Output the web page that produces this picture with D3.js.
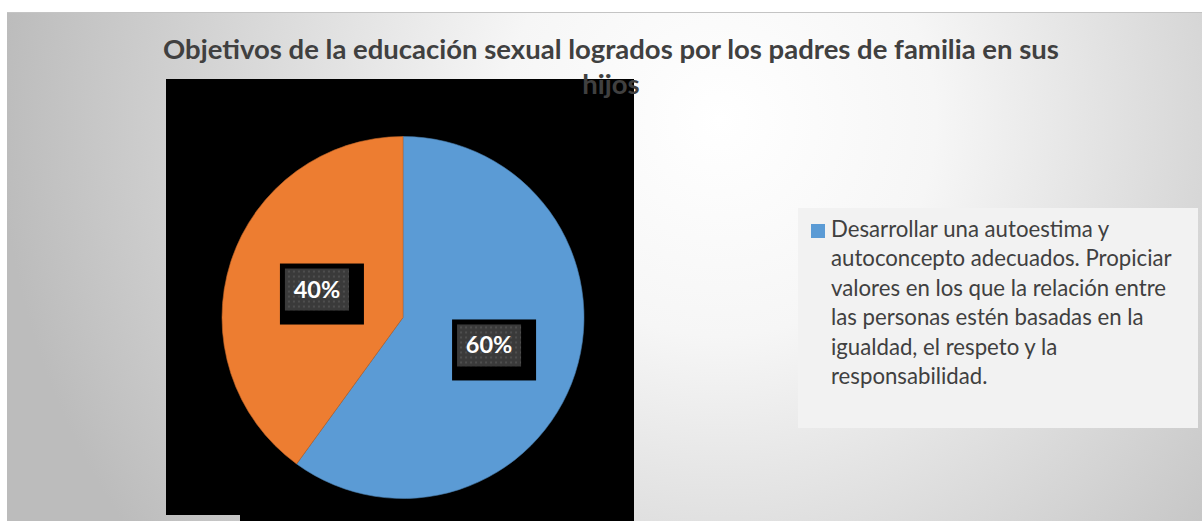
<!DOCTYPE html>
<html>
<head>
<meta charset="utf-8">
<script src="https://cdn.jsdelivr.net/npm/d3@7"></script>
<style>
  html, body { margin: 0; padding: 0; background: #ffffff; }
  svg { display: block; }
</style>
</head>
<body>
<script>
// Chart data
const titleLines = ["Objetivos de la educación sexual logrados por los padres de familia en sus", "hijos"];
const categories = [
  "Desarrollar una autoestima y autoconcepto adecuados. Propiciar valores en los que la relación entre las personas estén basadas en la igualdad, el respeto y la responsabilidad.",
  ""
];
const values = [60, 40];
const legendLines = [
  "Desarrollar una autoestima y",
  "autoconcepto adecuados. Propiciar",
  "valores en los que la relación entre",
  "las personas estén basadas en la",
  "igualdad, el respeto y la",
  "responsabilidad."
];
const colors = ["#5B9BD5", "#ED7D31"];

const W = 1202, H = 521;
const FONT = "Lato, 'Open Sans', 'Noto Sans', sans-serif";

const svg = d3.select("body").append("svg")
  .attr("width", W).attr("height", H);

const defs = svg.append("defs");
const bg = defs.append("radialGradient")
  .attr("id", "bgGrad")
  .attr("gradientUnits", "userSpaceOnUse")
  .attr("cx", 720).attr("cy", 120).attr("r", 720);
bg.append("stop").attr("offset", "0%").attr("stop-color", "#ffffff");
bg.append("stop").attr("offset", "30%").attr("stop-color", "#f6f6f6");
bg.append("stop").attr("offset", "100%").attr("stop-color", "#bcbcbc");

const pat = defs.append("pattern")
  .attr("id", "labelPat")
  .attr("patternUnits", "userSpaceOnUse")
  .attr("width", 5).attr("height", 5);
pat.append("rect").attr("width", 5).attr("height", 5).attr("fill", "#3a3a3a");
pat.append("rect").attr("x", 1).attr("y", 1).attr("width", 2).attr("height", 2).attr("fill", "#4e4e4e");

// Chart area background
svg.append("rect")
  .attr("x", 7).attr("y", 12).attr("width", W - 7).attr("height", H - 12)
  .attr("fill", "url(#bgGrad)");
svg.append("line")
  .attr("x1", 7).attr("x2", W).attr("y1", 12.5).attr("y2", 12.5)
  .attr("stroke", "#c4c4c4").attr("stroke-width", 1);

// Plot area (black)
const plot = svg.append("g");
plot.append("rect").attr("x", 166).attr("y", 79).attr("width", 468).attr("height", 436).attr("fill", "#000");
plot.append("rect").attr("x", 240).attr("y", 79).attr("width", 394).attr("height", 442).attr("fill", "#000");

// Title
svg.append("g").selectAll("text").data(titleLines).join("text")
  .attr("x", 611)
  .attr("y", (d, i) => 59 + i * 35)
  .attr("text-anchor", "middle")
  .attr("font-family", FONT)
  .attr("font-weight", "bold")
  .attr("font-size", 27.5)
  .attr("fill", "#404040")
  .text(d => d);

// Pie
const cx = 403, cy = 317.5, R = 181;
const pie = d3.pie().sort(null).value(d => d);
const arc = d3.arc().innerRadius(0).outerRadius(R);
const arcs = pie(values);

const pg = svg.append("g").attr("transform", `translate(${cx},${cy})`);
pg.selectAll("path").data(arcs).join("path")
  .attr("d", arc)
  .attr("fill", (d, i) => colors[i])
  .attr("stroke", (d, i) => d3.color(colors[i]).darker(0.6))
  .attr("stroke-width", 0.6);

// Data labels
const total = d3.sum(values);
const lbl = pg.selectAll("g.lbl").data(arcs).join("g")
  .attr("class", "lbl")
  .attr("transform", d => { const c = arc.centroid(d); return `translate(${c[0]},${c[1]})`; });
lbl.append("rect").attr("x", -37).attr("y", -26).attr("width", 84).attr("height", 61).attr("fill", "#000");
lbl.append("rect").attr("x", -32).attr("y", -21).attr("width", 64).attr("height", 42).attr("fill", "url(#labelPat)");
lbl.append("text")
  .attr("text-anchor", "middle")
  .attr("y", 8)
  .attr("font-family", FONT)
  .attr("font-weight", "bold")
  .attr("font-size", 23.5)
  .attr("fill", "#ffffff")
  .text(d => Math.round(d.data / total * 100) + "%");

// Legend
const lg = svg.append("g");
lg.append("rect").attr("x", 798).attr("y", 208).attr("width", 400).attr("height", 220).attr("fill", "#f2f2f2");
lg.append("rect").attr("x", 811).attr("y", 224).attr("width", 14).attr("height", 14).attr("fill", colors[0]);
lg.selectAll("text").data(legendLines).join("text")
  .attr("x", 831)
  .attr("y", (d, i) => 237 + i * 29.4)
  .attr("font-family", FONT)
  .attr("font-size", 22.2)
  .attr("fill", "#404040")
  .text(d => d);
</script>
</body>
</html>
